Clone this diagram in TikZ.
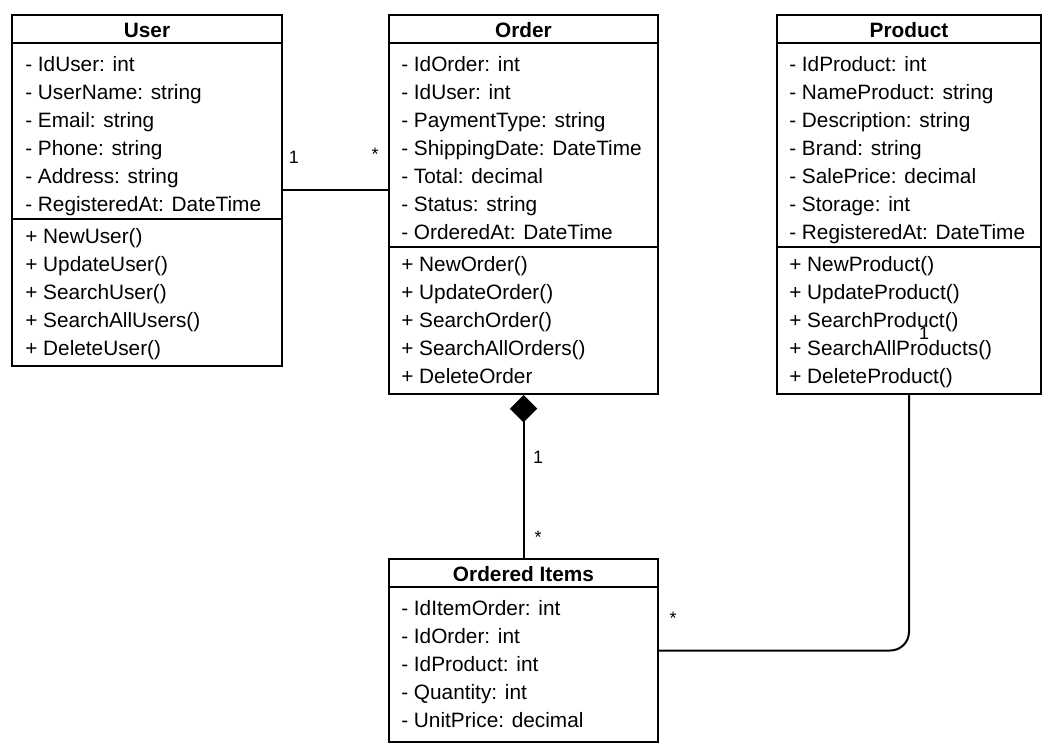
\documentclass[tikz,border=0pt]{standalone}
\usepackage{fontspec}
\setmainfont{Liberation Sans}
\usetikzlibrary{fit,arrows.meta}
\begin{document}
\begin{tikzpicture}[x=0.75pt,y=-0.75pt,
  box/.style={draw, line width=1.5pt, inner sep=0pt, fit={#1}},
  rule/.style={line width=1.5pt},
  row/.style={anchor=base west, inner sep=0pt, font=\fontsize{15.6pt}{18pt}\selectfont},
  title/.style={anchor=base, inner sep=0pt, font=\fontsize{15.6pt}{18pt}\selectfont\bfseries},
  mult/.style={inner sep=0pt, font=\fontsize{13.5pt}{16pt}\selectfont},
  link/.style={line width=1.5pt}]
\useasboundingbox (0,0) rectangle (1053,753);

% ---- User ----
\node[box={(12,15)(282,366)}] (user) {};
\draw[rule] (user.west |- 0,43) -- (user.east |- 0,43);
\draw[rule] (user.west |- 0,219) -- (user.east |- 0,219);
\node[title] (user-t) at (147,37) {User};
\foreach \t [count=\i from 0] in {- IdUser: int, - UserName: string, - Email: string, - Phone: string, - Address: string, - RegisteredAt: DateTime}
  \node[row, name=user-a\i] at (25,71+28*\i) {\t};
\foreach \t [count=\i from 0] in {+ NewUser(), + UpdateUser(), + SearchUser(), + SearchAllUsers(), + DeleteUser()}
  \node[row, name=user-m\i] at (25,243+28*\i) {\t};

% ---- Order ----
\node[box={(389,15)(658,394)}] (order) {};
\draw[rule] (order.west |- 0,43) -- (order.east |- 0,43);
\draw[rule] (order.west |- 0,247) -- (order.east |- 0,247);
\node[title] (order-t) at (523.5,37) {Order};
\foreach \t [count=\i from 0] in {- IdOrder: int, - IdUser: int, - PaymentType: string, - ShippingDate: DateTime, - Total: decimal, - Status: string, - OrderedAt: DateTime}
  \node[row, name=order-a\i] at (401,71+28*\i) {\t};
\foreach \t [count=\i from 0] in {+ NewOrder(), + UpdateOrder(), + SearchOrder(), + SearchAllOrders(), + DeleteOrder}
  \node[row, name=order-m\i] at (401,271+28*\i) {\t};

% ---- Product ----
\node[box={(777,15)(1041,394)}] (product) {};
\draw[rule] (product.west |- 0,43) -- (product.east |- 0,43);
\draw[rule] (product.west |- 0,247) -- (product.east |- 0,247);
\node[title] (product-t) at (909,37) {Product};
\foreach \t [count=\i from 0] in {- IdProduct: int, - NameProduct: string, - Description: string, - Brand: string, - SalePrice: decimal, - Storage: int, - RegisteredAt: DateTime}
  \node[row, name=product-a\i] at (789,71+28*\i) {\t};
\foreach \t [count=\i from 0] in {+ NewProduct(), + UpdateProduct(), + SearchProduct(), + SearchAllProducts(), + DeleteProduct()}
  \node[row, name=product-m\i] at (789,271+28*\i) {\t};

% ---- Ordered Items ----
\node[box={(389,559)(658,742)}] (items) {};
\draw[rule] (items.west |- 0,587) -- (items.east |- 0,587);
\node[title] (items-t) at (523.5,581) {Ordered Items};
\foreach \t [count=\i from 0] in {- IdItemOrder: int, - IdOrder: int, - IdProduct: int, - Quantity: int, - UnitPrice: decimal}
  \node[row, name=items-a\i] at (401,615+28*\i) {\t};

% ---- Associations ----
\draw[link] (user.east |- 0,190) -- (order.west |- 0,190);
\node[mult] (m-user) at (294,157) {1};
\node[mult] (m-order) at (375,154) {*};

\draw[link, -{Diamond[length=20.5pt, width=20.5pt, fill=black]}] (items.north) -- (order.south);
\node[mult] (m-order2) at (538,457) {1};
\node[mult] (m-items) at (538,537) {*};

\draw[link, rounded corners=14pt] (product.south) |- (items.east);
\node[mult] (m-product) at (924,333) {1};
\node[mult] (m-items2) at (673,618) {*};
\end{tikzpicture}
\end{document}
